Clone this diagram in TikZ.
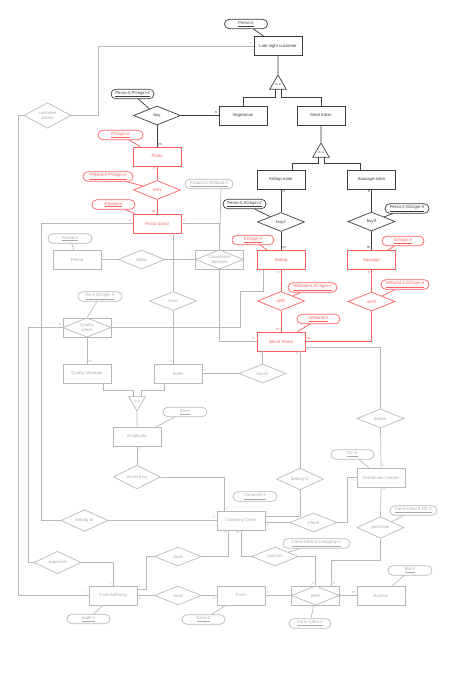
\documentclass[tikz,border=0pt]{standalone}
\usepackage{fontspec}
\setmainfont{Liberation Sans}
\usetikzlibrary{shapes.geometric}

\definecolor{darkln}{HTML}{3C3C3C}
\definecolor{grayln}{HTML}{B8B8B8}
\definecolor{graytx}{HTML}{A8A8A8}
\definecolor{redln}{HTML}{FF5E5E}

\tikzset{
  txt/.style={font=\fontsize{4.3}{5}\selectfont, inner sep=0pt, line width=0.7pt, align=center},
  ent/.style={txt, draw, rectangle, minimum width=48pt, minimum height=19pt},
  rel/.style={txt, draw, diamond, minimum width=47pt, minimum height=19pt},
  assoc/.style={ent, path picture={\draw[grayln, line width=0.7pt] (path picture bounding box.north) -- (path picture bounding box.east) -- (path picture bounding box.south) -- (path picture bounding box.west) -- cycle;}},
  attr/.style={txt, draw, rounded corners=4.7pt, minimum height=9.5pt, minimum width=#1},
  attr/.default=43pt,
  isa/.style={txt, draw, regular polygon, regular polygon sides=3, minimum size=19pt, font=\fontsize{3.4}{4}\selectfont},
  dk/.style={draw=darkln, text=darkln},
  gy/.style={draw=grayln, text=graytx},
  rd/.style={draw=redln, text=redln},
  dkc/.style={darkln, line width=0.7pt},
  gyc/.style={grayln, line width=0.7pt},
  rdc/.style={redln, line width=0.7pt},
  card/.style={font=\fontsize{3.8}{4}\selectfont, inner sep=1.2pt},
}

\begin{document}
\begin{tikzpicture}[x=1pt,y=-1pt]
\useasboundingbox (0,0) rectangle (454,687);

\node[attr, dk] (persoid) at (246,24) {\underline{Perso-\#}};
\node[ent, dk] (lnc) at (278,46) {Late night customer};
\node[isa, dk] (isa1) at (278,84.5) {is a};
\node[ent, dk] (veg) at (243,115.5) {Vegetarian};
\node[ent, dk] (meat) at (321,115.5) {Meat Eater};
\node[rel, dk] (buy) at (157,115.5) {buy};
\node[attr, dk] (persopid) at (132.5,94) {\underline{Perso-\#,POrigin-\#}};
\node[isa, dk] (isa3) at (321,152.5) {is a};
\node[ent, dk] (kebeater) at (281,179.5) {Kebap eater};
\node[ent, dk] (sauseater) at (371.5,179.5) {Sausage eater};
\node[rel, dk] (buy2) at (281,222) {buy2};
\node[rel, dk] (buy3) at (371.5,221.5) {buy3};
\node[attr, dk] (persokid) at (244.5,204) {\underline{Perso-\#,KOrigin-\#}};
\node[attr=44pt, dk] (persosid) at (407,208.5) {\underline{Perso-\#,SOrigin-\#}};

\node[ent, rd] (pasta) at (157,156.5) {Pasta};
\node[attr=45pt, rd] (poriginid) at (120.5,135) {\underline{POrigin-\#}};
\node[rel, rd] (sell1) at (157,190) {sell1};
\node[attr=50pt, rd] (pstandporigid) at (108,176.5) {\underline{PStand-\#,POrigin-\#}};
\node[attr, rd] (pstandid) at (113.5,204.5) {\underline{PStand-\#}};
\node[ent, rd] (pastastand) at (157,223.5) {Pasta Stand};
\node[ent, rd] (kebap) at (281,260) {Kebap};
\node[attr=42pt, rd] (koriginid) at (253,240) {\underline{KOrigin-\#}};
\node[rel, rd] (sell2) at (281,301) {sell2};
\node[attr=49pt, rd] (wstandkorigid) at (312.5,287.5) {\underline{WStand-\#,KOrigin-\#}};
\node[attr, rd] (wstandid) at (318.5,319) {\underline{WStand-\#}};
\node[ent, rd] (wurst) at (281,341.5) {Wurst Stand};
\node[ent, rd] (sausage) at (371.5,260) {Sausage};
\node[attr=42pt, rd] (soriginid) at (403,241) {\underline{SOrigin-\#}};
\node[rel, rd] (sell3) at (371.5,301.5) {sell3};
\node[attr=48pt, rd] (wstandsorigid) at (405,284.5) {\underline{WStand-\#,SOrigin-\#}};

\node[rel, gy] (advice) at (47.5,115.5) {customer\\advice};
\node[attr=48pt, gy] (pstandwstandid) at (209,184) {\underline{PStand-\#,WStand-\#}};
\node[ent, gy] (period) at (77,259.5) {Period};
\node[attr=44pt, gy] (periodid) at (70,238.5) {\underline{Period-\#}};
\node[rel, gy] (within) at (141.5,259.5) {within};
\node[assoc, gy] (coord) at (219.5,259.5) {Coordinate\\Specials};
\node[rel, gy] (have) at (173,301) {have};
\node[assoc, gy] (qcheck) at (87,327.5) {Quality\\check};
\node[attr=44pt, gy] (inskid) at (100,296.5) {\underline{Ins-\#,KOrigin-\#}};
\node[ent, gy] (qman) at (87,373.5) {Quality Manager};
\node[ent, gy] (seller) at (178,373.5) {Seller};
\node[rel, gy] (have2) at (262.5,373.5) {have2};
\node[isa, gy, shape border rotate=180] (isa2) at (137,401.5) {is a};
\node[ent, gy] (employee) at (137,436.5) {Employee};
\node[attr=44pt, gy] (insid) at (185,412) {\underline{Ins-\#}};
\node[rel, gy] (insured) at (137,477) {insured by};
\node[rel, gy] (deliver) at (380.5,418.5) {deliver};
\node[ent, gy] (dc) at (381,477.5) {Distribution Centre};
\node[attr, gy] (dcid) at (352.5,454.5) {\underline{DC-\#}};
\node[rel, gy] (belong1) at (84.5,520.5) {belong to};
\node[rel, gy] (belong2) at (300,479) {belong to};
\node[ent, gy] (company) at (241,520.5) {Company Chain};
\node[attr=44pt, gy] (companyid) at (255,496.5) {\underline{Company-\#}};
\node[rel, gy] (inform) at (313.5,522.5) {inform};
\node[rel, gy] (supervise) at (57.5,562.5) {supervise};
\node[rel, gy] (audit1) at (178,556.5) {Audit};
\node[rel, gy] (contract) at (275,556.5) {contract};
\node[attr=67pt, gy] (fbcid) at (316.5,543.5) {\underline{Farm-\#,But-\#,Company-\#}};
\node[rel, gy] (purchase) at (380.5,527.5) {purchase};
\node[attr=47pt, gy] (fbdid) at (413.5,510.5) {\underline{Farm-\#,But-\#,DC-\#}};
\node[ent, gy] (fa) at (113,595.5) {Food Authority};
\node[attr, gy] (auditid) at (88.5,619) {\underline{Audit-\#}};
\node[rel, gy] (audit2) at (178,595.5) {Audit};
\node[ent, gy] (farm) at (241,595.5) {Farm};
\node[attr, gy] (farmid) at (203.5,619.5) {\underline{Farm-\#}};
\node[assoc, gy] (beef) at (315.5,595.5) {Beef};
\node[attr=42pt, gy] (fbid) at (310,623.5) {\underline{Farm-\#,But-\#}};
\node[ent, gy] (butcher) at (381,595.5) {Butcher};
\node[attr=44pt, gy] (butid) at (410,570.5) {\underline{But-\#}};

\draw[dkc] (persoid) -- (lnc);
\draw[dkc] (lnc.south) -- (isa1);
\draw[dkc] ([shift={(-3pt,-4.75pt)}]isa1.center) -- ++(0,8.5) -| (veg.north);
\draw[dkc] ([shift={(3pt,-4.75pt)}]isa1.center) -- ++(0,8.5) -| (meat.north);
\draw[dkc] (buy.east) -- (veg.west) node[card, above left] {n};
\draw[dkc] (persopid) -- (buy);
\draw[dkc] (buy.south) -- (pasta.north) node[card, above right] {m};
\draw[dkc] (meat.south) -- (isa3);
\draw[dkc] ([shift={(-3pt,-4.75pt)}]isa3.center) -- ++(0,6) -| ([xshift=11pt]kebeater.north);
\draw[dkc] ([shift={(3pt,-4.75pt)}]isa3.center) -- ++(0,6) -| ([xshift=-11.5pt]sauseater.north);
\draw[dkc] (kebeater.south) node[card, below right] {n} -- (buy2.north);
\draw[dkc] (persokid) -- (buy2);
\draw[dkc] (buy2.south) -- (kebap.north) node[card, above right] {m};
\draw[dkc] (sauseater.south) node[card, below left] {n} -- (buy3.north);
\draw[dkc] (persosid) -- (buy3);
\draw[dkc] (buy3.south) -- (sausage.north) node[card, above left] {m};

\draw[rdc] (poriginid) -- (pasta);
\draw[rdc] (pasta.south) node[card, below left] {n} -- (sell1.north);
\draw[rdc] (pstandporigid) -- (sell1);
\draw[rdc] (sell1.south) -- (pastastand.north) node[card, above left] {m};
\draw[rdc] (pstandid) -- (pastastand);
\draw[rdc] (koriginid) -- (kebap);
\draw[rdc] (kebap.south) node[card, below left] {n} -- (sell2.north);
\draw[rdc] (wstandkorigid) -- (sell2);
\draw[rdc] (sell2.south) -- (wurst.north) node[card, above left] {m};
\draw[rdc] (wstandid) -- (wurst);
\draw[rdc] (soriginid) -- (sausage);
\draw[rdc] (sausage.south) node[card, below left] {n} -- (sell3.north);
\draw[rdc] (wstandsorigid) -- (sell3);
\draw[rdc] (sell3.south) |- (wurst.east) node[card, above right] {m};

\draw[gyc] (lnc.west) node[card, above left] {n} -| ([xshift=27pt]advice.east) -- (advice.east);
\draw[gyc] (advice.west) -- ++(-5,0) |- (fa.west) node[card, above left] {1};
\draw[gyc] (pastastand.west) node[card, above left] {n} -| ([xshift=-19pt]belong1.west) -- (belong1.west);
\draw[gyc] (belong1.east) -- (company.west) node[card, above left] {1};
\draw[gyc] (qcheck.west) node[card, above left] {n} -| ([xshift=-5pt]supervise.west) -- (supervise.west);
\draw[gyc] (supervise.east) -| (fa.north) node[card, above left] {1};
\draw[gyc] (inskid) -- (qcheck.north);
\draw[gyc] (qcheck.east) -- ++(129,0) -- ++(0,-36) -| ([xshift=-18pt]kebap.south) node[card, below left] {n};
\draw[gyc] (qcheck.south) -- (qman.north) node[card, above right] {m};
\draw[gyc] (periodid) -- (period);
\draw[gyc] (period.east) node[card, above right] {1} -- (within.west);
\draw[gyc] (within.east) -- (coord.west) node[card, above left] {n};
\draw[gyc] (pastastand.east) node[card, above right] {n} -| (coord.north);
\draw[gyc] ([xshift=12pt]pstandwstandid.south) -- (coord.north);
\draw[gyc] (coord.south) |- (wurst.west) node[card, above left] {m};
\draw[gyc] ([xshift=16pt]pastastand.south) node[card, below left] {1} -- (have.north);
\draw[gyc] (have.south) -- (have.south |- seller.north) node[card, above left] {n};
\draw[gyc] (seller.east) node[card, above right] {n} -- (have2.west);
\draw[gyc] (have2.north) -- (have2.north |- wurst.south) node[card, below left] {1};
\draw[gyc] ([xshift=19pt]wurst.south) node[card, below left] {n} -- (belong2.north);
\draw[gyc] ([yshift=-5.5pt]wurst.east) node[card, below right] {n} -| (deliver.north);
\draw[gyc] (deliver.south) -- (dc.north) node[card, above right] {1};
\draw[gyc] (dcid) -- (dc);
\draw[gyc] (dc.west) node[card, below left] {n} -| ([xshift=10pt]inform.east) -- (inform.east);
\draw[gyc] (inform.west) -- (inform.west -| company.east) node[card, below right] {1};
\draw[gyc] (belong2.south) |- ([yshift=4.5pt]company.east) node[card, above right] {1};
\draw[gyc] (insured.east) -| ([xshift=-17pt]company.north) node[card, above right] {1};
\draw[gyc] (employee.south) node[card, below right] {n} -- (insured.north);
\draw[gyc] (insid) -- (employee);
\draw[gyc] (isa2) -- (employee.north);
\draw[gyc] ([shift={(-4pt,4.75pt)}]isa2.center) -- ++(0,-6) -| ([xshift=16pt]qman.south);
\draw[gyc] ([shift={(4pt,4.75pt)}]isa2.center) -- ++(0,-6) -| ([xshift=-14pt]seller.south);
\draw[gyc] ([yshift=6.5pt]fa.east) node[card, above right] {1} -- ++(9,0) |- (audit1.west);
\draw[gyc] (auditid) -- (fa);
\draw[gyc] (fa.east) node[card, below right] {1} -- (audit2.west);
\draw[gyc] (audit1.east) -| ([xshift=-13pt]company.south) node[card, below left] {n};
\draw[gyc] (company.south) node[card, below left] {m} |- (contract.west);
\draw[gyc] (fbcid) -- (contract);
\draw[gyc] (contract.east) -| (beef.north) node[card, above left] {n};
\draw[gyc] (audit2.east) -- (farm.west) node[card, below left] {n};
\draw[gyc] (farmid) -- (farm);
\draw[gyc] (farm.east) node[card, above right] {n} -- (beef.west);
\draw[gyc] (fbid) -- (beef);
\draw[gyc] ([xshift=16pt]beef.north) node[card, above right] {n} -- ++(0,-25) -| (purchase.south);
\draw[gyc] (dc.south) node[card, below right] {m} -- (purchase.north);
\draw[gyc] (fbdid) -- (purchase);
\draw[gyc] (beef.east) -- (butcher.west) node[card, above left] {m};
\draw[gyc] (butid) -- (butcher);
\end{tikzpicture}
\end{document}
